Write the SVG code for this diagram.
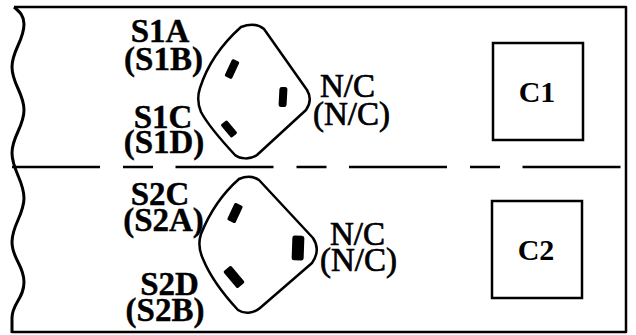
<svg xmlns="http://www.w3.org/2000/svg" width="636" height="335" viewBox="0 0 636 335">
<style>
.ln{fill:none;stroke:#000;stroke-width:2.5;stroke-linejoin:round;stroke-linecap:butt}
.wave{fill:none;stroke:#000;stroke-width:3}
.sock{fill:#fff;stroke:#000;stroke-width:2.5;stroke-linejoin:round}
.pin{fill:#000}
.lb{font-family:"Liberation Serif","Times New Roman",serif;font-weight:bold;font-size:33px;fill:#000;stroke:#000;stroke-width:0.4}
.cl{font-family:"Liberation Serif","Times New Roman",serif;font-weight:bold;font-size:30px;fill:#000}
.nc{font-family:"Liberation Serif","Times New Roman",serif;font-weight:normal;font-size:33px;fill:#000;stroke:#000;stroke-width:0.7}
.box{fill:none;stroke:#000;stroke-width:2.5}
</style>
<rect width="636" height="335" fill="#fff"/>
<g id="frame">
<path class="ln" d="M14,7 H626 V332 H12"/>
<path class="wave" d="M14,7 C20,12 24,16 24,24 C24,41 12,50 12,67 C12,84 24,93 24,110 C24,127 12,136 12,153 C12,170 24,181 24,198 C24,215 12,225 12,242 C12,259 24,265 24,282 C24,299 12,303 12,318 L12,333"/>
</g>
<g id="connectors">
<line class="ln" x1="12" y1="167" x2="622" y2="167" stroke-dasharray="98 23 30 22.5" stroke-dashoffset="10"/>
</g>
<g id="socket1">
<path class="sock" d="M241,27 C249,24 258,24 264,29 L307,90 Q313,100 306,110 L257,155 C250,160 240,159 235,155 C222,141 208,125 201,112 Q196,100 200,88 C207,66 222,44 241,27 Z"/>
<rect class="pin" x="-4" y="-9.5" width="8" height="19" rx="1.5" transform="translate(232,69) rotate(25)"/>
<rect class="pin" x="-4" y="-10" width="8" height="20" rx="2.5" transform="translate(283,97) rotate(3)"/>
<rect class="pin" x="-4" y="-8.5" width="8" height="17" rx="1.5" transform="translate(229,129) rotate(-40)"/>
</g>
<g id="socket2">
<path class="sock" d="M239,179 C246,176 253,176 259,180 L313,238 Q321,250 312,263 L260,308 C253,314 244,314 238,310 C224,295 210,276 203,259 Q197,246 201,234 C209,214 222,194 239,179 Z"/>
<rect class="pin" x="-4.5" y="-9.5" width="9" height="19" rx="1.5" transform="translate(235,213) rotate(25)"/>
<rect class="pin" x="-6" y="-12.5" width="12" height="25" rx="2.5" transform="translate(298,248) rotate(2)"/>
<rect class="pin" x="-5" y="-11" width="10" height="22" rx="1.5" transform="translate(234,277) rotate(-40)"/>
</g>
<g id="labels1">
<text class="lb" x="160" y="42" text-anchor="middle">S1A</text>
<text class="lb" x="163.5" y="70" text-anchor="middle">(S1B)</text>
<text class="lb" x="163" y="128" text-anchor="middle">S1C</text>
<text class="lb" x="164" y="153" text-anchor="middle">(S1D)</text>
<text class="nc" x="320" y="97">N/C</text>
<text class="nc" x="313" y="125">(N/C)</text>
</g>
<g id="labels2">
<text class="lb" x="160" y="205" text-anchor="middle">S2C</text>
<text class="lb" x="163.5" y="231" text-anchor="middle">(S2A)</text>
<text class="lb" x="169.5" y="295" text-anchor="middle">S2D</text>
<text class="lb" x="165" y="321" text-anchor="middle">(S2B)</text>
<text class="nc" x="330" y="245">N/C</text>
<text class="nc" x="320" y="271">(N/C)</text>
</g>
<g id="C1">
<rect class="box" x="493" y="43" width="90" height="97"/>
<text class="cl" x="537" y="102" text-anchor="middle">C1</text>
</g>
<g id="C2">
<rect class="box" x="492" y="201" width="90" height="97"/>
<text class="cl" x="536" y="260" text-anchor="middle">C2</text>
</g>
</svg>
